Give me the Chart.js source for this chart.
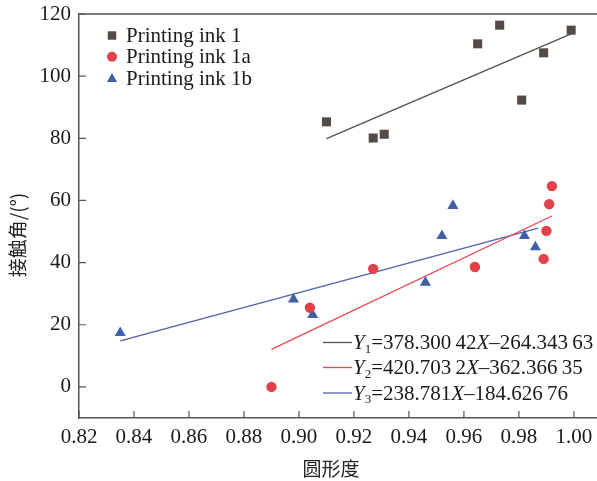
<!DOCTYPE html>
<html>
<head>
<meta charset="utf-8">
<script src="https://cdn.jsdelivr.net/npm/chart.js@4"></script>
<style>
  body { margin: 0; background: #fff; }
  canvas { display: block; }
</style>
</head>
<body>
<canvas id="inkChart" width="597" height="481"></canvas>
<script>
// data
const seriesNames = ['Printing ink 1', 'Printing ink 1a', 'Printing ink 1b'];
const ink1X = [0.910, 0.927, 0.931, 0.965, 0.973, 0.981, 0.989, 0.999];
const ink1Y = [85.3, 80.1, 81.3, 110.4, 116.4, 92.3, 107.5, 114.8];
const ink1aX = [0.890, 0.904, 0.927, 0.964, 0.989, 0.990, 0.991, 0.992];
const ink1aY = [0, 25.5, 38.0, 38.6, 41.2, 50.2, 58.8, 64.6];
const ink1bX = [0.835, 0.898, 0.905, 0.946, 0.952, 0.956, 0.982, 0.986];
const ink1bY = [17.4, 28.2, 23.2, 33.6, 48.6, 58.3, 48.6, 45.0];

// fitted lines (end points)
const fit1X = [0.910, 0.999], fit1Y = [79.9, 113.6];
const fit2X = [0.890, 0.992], fit2Y = [12.1, 55.0];
const fit3X = [0.835, 0.987], fit3Y = [14.8, 51.1];
const eqSlope = ['378.300\u200942', '420.703\u20092', '238.781'];
const eqIntercept = ['264.343\u200963', '362.366\u200935', '184.626\u200976'];

const xTicks = [0.82, 0.84, 0.86, 0.88, 0.90, 0.92, 0.94, 0.96, 0.98, 1.00];
const yTicks = [0, 20, 40, 60, 80, 100, 120];

const colors = ['#544b48', '#e2404a', '#4060a8'];
const lineColors = ['#57504d', '#e84850', '#4a64ac'];
const styles = ['rect', 'circle', 'triangle'];
const radii = [6.4, 5.2, 6.4];

const pts = (xs, ys) => xs.map((x, i) => ({ x: x, y: ys[i] }));
const serif = "'Liberation Serif', 'Times New Roman', serif";
const cjk = "'Noto Sans CJK SC', sans-serif";
const axisColor = '#555';

const scatterSets = [pts(ink1X, ink1Y), pts(ink1aX, ink1aY), pts(ink1bX, ink1bY)].map((d, i) => ({
    type: 'scatter',
    label: seriesNames[i],
    data: d,
    pointStyle: styles[i],
    pointRadius: radii[i],
    pointHoverRadius: radii[i],
    backgroundColor: colors[i],
    borderColor: colors[i],
    borderWidth: 0,
    order: 1
}));
const fitSets = [pts(fit1X, fit1Y), pts(fit2X, fit2Y), pts(fit3X, fit3Y)].map((d, i) => ({
    type: 'line',
    label: 'Y' + (i + 1),
    data: d,
    borderColor: lineColors[i],
    borderWidth: 1.3,
    pointRadius: 0,
    fill: false,
    order: 2
}));

function marker(ctx, style, x, y, r, color) {
    ctx.fillStyle = color;
    ctx.beginPath();
    if (style === 'rect') {
        const s = Math.SQRT1_2 * r;
        ctx.rect(x - s, y - s, 2 * s, 2 * s);
    } else if (style === 'circle') {
        ctx.arc(x, y, r, 0, Math.PI * 2);
    } else {
        ctx.moveTo(x, y - r);
        ctx.lineTo(x + r * Math.sin(Math.PI * 2 / 3), y + r / 2);
        ctx.lineTo(x - r * Math.sin(Math.PI * 2 / 3), y + r / 2);
        ctx.closePath();
    }
    ctx.fill();
}

const decorations = {
    id: 'decorations',
    afterDraw(chart) {
        const ctx = chart.ctx;
        const a = chart.chartArea;
        const xs = chart.scales.x, ys = chart.scales.y;
        ctx.save();

        // top frame line
        ctx.strokeStyle = axisColor;
        ctx.lineWidth = 1.5;
        ctx.beginPath();
        ctx.moveTo(a.left, a.top);
        ctx.lineTo(a.right, a.top);
        ctx.stroke();

        // inward ticks
        ctx.lineWidth = 1.2;
        ctx.beginPath();
        xTicks.forEach(v => {
            const px = xs.getPixelForValue(v);
            ctx.moveTo(px, a.bottom);
            ctx.lineTo(px, a.bottom - 7);
        });
        yTicks.forEach(v => {
            const py = ys.getPixelForValue(v);
            ctx.moveTo(a.left, py);
            ctx.lineTo(a.left + 7, py);
        });
        ctx.stroke();

        // series legend
        ctx.textBaseline = 'middle';
        ctx.textAlign = 'left';
        seriesNames.forEach((name, i) => {
            const y = 35.5 + i * 21.3;
            marker(ctx, styles[i], 112, y + (i === 2 ? 1 : 0), i === 0 ? 6 : (i === 1 ? 5 : 6), colors[i]);
            ctx.fillStyle = '#1a1a1a';
            ctx.font = '21px ' + serif;
            ctx.fillText(name, 126, y + 1);
        });

        // equation legend
        const rows = [342.5, 367.5, 393];
        rows.forEach((y, i) => {
            ctx.strokeStyle = lineColors[i];
            ctx.lineWidth = 1.3;
            ctx.beginPath();
            ctx.moveTo(323, y);
            ctx.lineTo(352, y);
            ctx.stroke();
            const parts = [
                { t: 'Y', f: 'italic 21px ' + serif, dy: 0 },
                { t: String(i + 1), f: '13px ' + serif, dy: 6 },
                { t: '=' + eqSlope[i], f: '21px ' + serif, dy: 0 },
                { t: 'X', f: 'italic 21px ' + serif, dy: 0 },
                { t: '\u2013' + eqIntercept[i], f: '21px ' + serif, dy: 0 }
            ];
            let x = 353;
            ctx.fillStyle = '#1a1a1a';
            parts.forEach(p => {
                ctx.font = p.f;
                ctx.fillText(p.t, x, y + 1 + p.dy);
                x += ctx.measureText(p.t).width;
            });
        });

        // axis titles
        ctx.fillStyle = '#222';
        ctx.font = '19px ' + cjk;
        ctx.textAlign = 'center';
        ctx.fillText('圆形度', 331, 469);
        ctx.translate(18, 235);
        ctx.rotate(-Math.PI / 2);
        ctx.fillText('接触角/(°)', 0, 0);
        ctx.restore();
    }
};

new Chart(document.getElementById('inkChart'), {
    type: 'scatter',
    data: { datasets: [...scatterSets, ...fitSets] },
    options: {
        responsive: false,
        animation: false,
        layout: { autoPadding: false, padding: { top: 14, right: 0, left: 0, bottom: 0 } },
        plugins: {
            legend: { display: false },
            tooltip: { enabled: false }
        },
        scales: {
            x: {
                type: 'linear',
                min: 0.82,
                max: 1.0084,
                afterBuildTicks: s => { s.ticks = xTicks.map(v => ({ value: v })); },
                afterFit: s => { s.height = 63; s.paddingLeft = 0; s.paddingRight = 0; },
                grid: { display: false, drawTicks: false },
                border: { display: true, color: axisColor, width: 1.5 },
                ticks: {
                    padding: 7,
                    color: '#1a1a1a',
                    font: { family: serif, size: 21 },
                    callback: v => v.toFixed(2)
                }
            },
            y: {
                type: 'linear',
                min: -10,
                max: 120,
                afterBuildTicks: s => { s.ticks = yTicks.map(v => ({ value: v })); },
                afterFit: s => { s.width = 79; s.paddingTop = 0; s.paddingBottom = 0; },
                grid: { display: false, drawTicks: false },
                border: { display: true, color: axisColor, width: 1.5 },
                ticks: {
                    padding: 8,
                    color: '#1a1a1a',
                    font: { family: serif, size: 21 }
                }
            }
        }
    },
    plugins: [decorations]
});
</script>
</body>
</html>
